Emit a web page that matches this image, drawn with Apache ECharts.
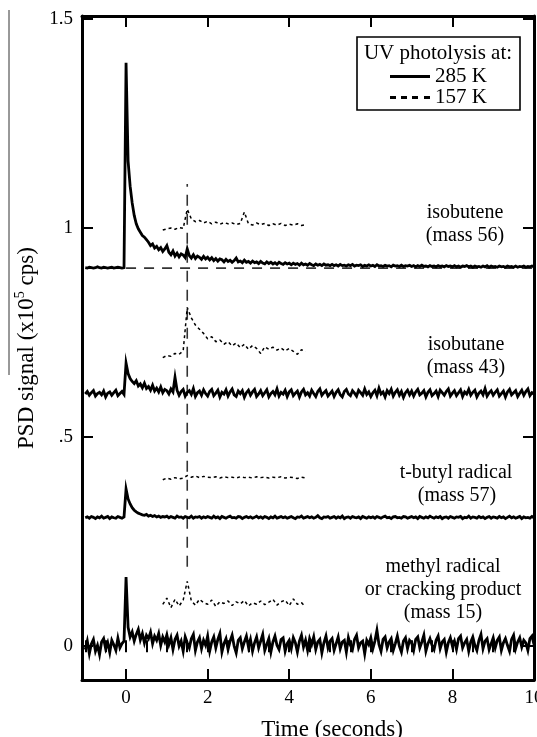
<!DOCTYPE html>
<html><head><meta charset="utf-8">
<script src="https://cdn.jsdelivr.net/npm/echarts@6/dist/echarts.min.js"></script>
<style>html,body{margin:0;padding:0;background:#fff}#c{width:537px;height:737px}</style>
</head><body><div id="c"></div>
<script>
// ---- axis ticks & labels ----
const xMajorTicks = [0, 2, 4, 6, 8, 10];
const xMinorTicks = [-1, -0.5, 0, 0.5, 1, 1.5, 2, 2.5, 3, 3.5, 4, 4.5, 5, 5.5, 6, 6.5, 7, 7.5, 8, 8.5, 9, 9.5, 10];
const yTickValues = [0, 0.5, 1, 1.5];
const yTickLabels = ['0', '.5', '1', '1.5'];

// ---- 285 K traces: sampled every 0.05 s from -1.0 s to 10.0 s ----
const solidStart = -1.0, solidStep = 0.05;
const isobutene285 = [
 0.905,0.904,0.906,0.905,0.904,0.905,0.907,0.905,0.904,0.906,0.905,0.904,0.905,0.906,0.904,0.905,0.906,0.905,0.904,0.905,
 1.395,
 1.16,1.10,1.06,1.03,1.01,0.998,0.990,0.982,0.978,0.972,0.966,0.958,0.962,0.952,0.956,0.948,0.953,0.944,0.950,0.958,
 0.942,0.936,0.945,0.933,0.940,0.931,0.938,0.935,0.929,0.950,0.934,0.928,0.936,0.927,0.933,0.930,0.925,0.932,0.926,0.930,
 0.924,0.929,0.922,0.927,0.921,0.926,0.924,0.919,0.925,0.920,0.923,0.918,0.922,0.928,0.919,0.921,0.917,0.923,0.918,0.920,
 0.916,0.921,0.917,0.919,0.915,0.920,0.916,0.914,0.919,0.915,0.918,0.914,0.917,0.913,0.918,0.915,0.913,0.917,0.914,0.916,
 0.912,0.916,0.913,0.915,0.911,0.916,0.912,0.914,0.911,0.915,0.912,0.910,0.914,0.911,0.913,0.910,0.914,0.911,0.912,0.910,
 0.913,0.910,0.912,0.909,0.913,0.910,0.911,0.909,0.912,0.910,0.913,0.909,0.911,0.910,0.912,0.908,0.911,0.909,0.912,0.909,
 0.911,0.908,0.912,0.909,0.910,0.908,0.911,0.909,0.910,0.907,0.911,0.909,0.910,0.908,0.911,0.908,0.910,0.909,0.911,0.908,
 0.910,0.907,0.910,0.908,0.911,0.908,0.909,0.907,0.910,0.908,0.909,0.907,0.910,0.908,0.909,0.907,0.910,0.908,0.909,0.907,
 0.910,0.907,0.909,0.906,0.909,0.908,0.910,0.907,0.909,0.906,0.909,0.907,0.908,0.906,0.909,0.907,0.910,0.906,0.909,0.907,
 0.908,0.906,0.909,0.907,0.908,0.906,0.909,0.907,0.908,0.906,0.909,0.906,0.908,0.907,0.909,0.906,0.908,0.907,0.909,0.907
];
const isobutane285 = [
 0.603,0.609,0.600,0.606,0.611,0.598,0.604,0.607,0.601,0.610,0.596,0.605,0.608,0.600,0.606,0.612,0.599,0.604,0.609,0.602,
 0.677,
 0.652,0.640,0.633,0.628,0.635,0.622,0.627,0.618,0.629,0.616,0.621,0.612,0.624,0.610,0.617,0.608,0.620,0.606,0.614,0.611,
 0.603,0.615,0.608,0.643,0.612,0.600,0.609,0.614,0.598,0.607,0.611,0.602,0.616,0.597,0.606,0.610,0.600,0.613,0.604,0.598,
 0.609,0.614,0.599,0.605,0.612,0.596,0.607,0.603,0.613,0.598,0.608,0.615,0.601,0.597,0.610,0.604,0.611,0.595,0.606,0.612,
 0.600,0.608,0.614,0.597,0.603,0.611,0.599,0.606,0.613,0.596,0.604,0.609,0.601,0.615,0.598,0.607,0.603,0.612,0.597,0.608,
 0.613,0.599,0.605,0.610,0.596,0.608,0.614,0.601,0.606,0.598,0.612,0.604,0.597,0.609,0.615,0.600,0.606,0.611,0.598,0.604,
 0.610,0.597,0.607,0.613,0.601,0.596,0.609,0.614,0.603,0.599,0.611,0.605,0.598,0.612,0.606,0.600,0.615,0.602,0.608,0.597,
 0.606,0.612,0.599,0.617,0.603,0.608,0.596,0.611,0.604,0.614,0.598,0.607,0.613,0.600,0.609,0.595,0.606,0.612,0.601,0.610,
 0.598,0.608,0.614,0.601,0.605,0.611,0.596,0.607,0.613,0.599,0.604,0.610,0.597,0.612,0.606,0.600,0.609,0.615,0.598,0.605,
 0.611,0.599,0.606,0.613,0.597,0.608,0.603,0.614,0.600,0.607,0.612,0.596,0.605,0.610,0.601,0.616,0.598,0.606,0.611,0.600,
 0.607,0.613,0.598,0.604,0.610,0.596,0.608,0.614,0.601,0.606,0.611,0.597,0.605,0.612,0.600,0.609,0.615,0.599,0.606,0.603
];
const tbutyl285 = [
 0.307,0.309,0.306,0.310,0.308,0.305,0.309,0.307,0.311,0.306,0.308,0.310,0.305,0.309,0.307,0.306,0.310,0.308,0.306,0.309,
 0.376,
 0.352,0.340,0.331,0.325,0.321,0.318,0.316,0.314,0.313,0.315,0.311,0.313,0.310,0.312,0.309,0.311,0.308,0.310,0.309,0.311,
 0.307,0.310,0.308,0.306,0.311,0.308,0.309,0.306,0.310,0.308,0.307,0.311,0.306,0.309,0.308,0.310,0.306,0.309,0.307,0.310,
 0.308,0.306,0.311,0.307,0.309,0.305,0.310,0.308,0.306,0.309,0.311,0.307,0.308,0.306,0.310,0.309,0.305,0.308,0.310,0.307,
 0.309,0.306,0.308,0.311,0.307,0.309,0.306,0.310,0.308,0.305,0.309,0.307,0.311,0.306,0.308,0.310,0.307,0.309,0.306,0.308,
 0.310,0.307,0.305,0.309,0.308,0.311,0.306,0.308,0.310,0.307,0.309,0.306,0.308,0.312,0.307,0.305,0.309,0.308,0.310,0.306,
 0.308,0.310,0.306,0.309,0.307,0.311,0.305,0.308,0.309,0.306,0.310,0.308,0.307,0.309,0.305,0.310,0.308,0.306,0.309,0.307,
 0.309,0.306,0.310,0.308,0.306,0.309,0.311,0.307,0.308,0.305,0.309,0.310,0.307,0.308,0.306,0.310,0.309,0.306,0.308,0.310,
 0.307,0.309,0.305,0.310,0.308,0.306,0.309,0.307,0.311,0.308,0.306,0.309,0.307,0.310,0.305,0.308,0.309,0.306,0.310,0.308,
 0.306,0.309,0.308,0.310,0.305,0.308,0.307,0.311,0.306,0.309,0.308,0.306,0.310,0.307,0.309,0.305,0.308,0.310,0.306,0.309,
 0.308,0.306,0.310,0.307,0.309,0.305,0.308,0.311,0.307,0.309,0.306,0.308,0.310,0.305,0.309,0.307,0.308,0.306,0.310,0.307
];
const methyl285 = [
 -0.008,0.012,-0.018,0.005,0.016,-0.012,0.002,-0.020,0.010,0.018,-0.006,0.008,-0.015,0.014,0.003,-0.010,0.019,-0.004,0.006,0.012,
 0.165,
 0.045,0.022,0.034,0.012,0.028,0.040,0.015,0.030,0.008,0.026,0.018,0.033,0.006,0.024,0.014,0.030,0.002,0.022,0.010,0.027,
 0.004,0.020,-0.008,0.016,0.026,0.000,0.012,-0.012,0.022,0.008,-0.004,0.018,0.028,-0.010,0.010,0.020,-0.006,0.014,0.002,0.024,
 -0.012,0.010,0.022,-0.004,0.016,0.030,-0.014,0.006,0.018,-0.008,0.012,0.026,0.000,-0.016,0.014,0.020,-0.006,0.010,0.024,-0.002,
 0.016,-0.012,0.008,0.022,-0.004,0.012,0.028,-0.010,0.004,0.018,-0.014,0.010,0.024,0.002,-0.008,0.016,0.020,-0.012,0.006,0.014,
 -0.006,0.020,0.008,-0.014,0.012,0.026,-0.002,0.014,-0.010,0.018,0.004,0.022,-0.008,0.010,0.016,-0.016,0.008,0.024,-0.004,0.012,
 0.018,-0.010,0.006,0.022,-0.006,0.010,0.014,-0.014,0.020,0.002,-0.008,0.016,0.026,-0.004,0.008,0.012,-0.018,0.014,0.004,0.020,
 -0.006,0.012,0.038,0.004,-0.012,0.016,0.022,-0.004,0.010,0.018,-0.010,0.006,0.024,0.000,-0.014,0.012,0.020,-0.006,0.014,0.008,
 -0.010,0.016,0.022,-0.004,0.010,0.026,-0.012,0.006,0.018,0.002,-0.008,0.014,0.024,-0.006,0.010,0.016,-0.014,0.008,0.020,0.000,
 0.012,-0.008,0.018,0.024,-0.004,0.008,0.016,-0.012,0.010,0.022,0.002,-0.010,0.014,0.028,-0.006,0.012,0.018,-0.008,0.006,0.020,
 -0.004,0.014,0.022,-0.010,0.008,0.018,0.002,-0.012,0.016,0.026,-0.006,0.010,0.020,-0.002,0.014,0.008,-0.010,0.018,0.024,0.004
];

// ---- 157 K traces: sampled every 0.1 s from 0.9 s to 4.4 s ----
const dotStart = 0.9, dotStep = 0.1;
const isobutene157 = [
 0.995,0.998,1.000,0.997,1.001,0.999,
 1.045,
 1.022,1.015,1.018,1.012,1.016,1.010,1.014,1.009,1.013,1.010,
 1.012,1.008,1.011,1.038,1.010,1.007,1.012,1.008,1.011,1.006,
 1.010,1.007,1.011,1.006,1.009,1.007,1.010,1.006,1.008
];
const isobutane157 = [
 0.690,0.695,0.693,0.700,0.698,0.706,
 0.810,
 0.785,0.768,0.758,0.748,0.735,0.740,0.728,0.732,0.722,0.728,
 0.718,0.725,0.714,0.722,0.710,0.719,0.712,0.700,0.716,0.710,
 0.715,0.708,0.713,0.706,0.712,0.705,0.698,0.709,0.704
];
const tbutyl157 = [
 0.398,0.402,0.399,0.403,0.400,0.402,
 0.408,
 0.404,0.407,0.403,0.406,0.404,0.403,0.405,0.402,0.405,0.403,
 0.404,0.402,0.405,0.403,0.404,0.402,0.405,0.403,0.404,0.402,
 0.404,0.403,0.405,0.402,0.404,0.403,0.401,0.404,0.402
];
const methyl157 = [
 0.100,0.115,0.092,0.112,0.096,0.110,
 0.155,
 0.108,0.098,0.112,0.104,0.100,0.110,0.095,0.106,0.102,0.108,
 0.097,0.106,0.101,0.109,0.096,0.104,0.100,0.108,0.099,0.105,
 0.112,0.098,0.106,0.110,0.097,0.113,0.100,0.104,0.094
];

// ---- reference dashed lines ----
const baselineX = [0, 10];
const baselineY = 0.904;
const markerX = 1.5;
const markerY = [0.19, 1.105];

// ---- labels ----
const traceLabels = [
  ['isobutene', '(mass 56)'],
  ['isobutane', '(mass 43)'],
  ['t-butyl radical', '(mass 57)'],
  ['methyl radical', 'or cracking product', '(mass 15)']
];
const legendTitle = 'UV photolysis at:';
const legendNames = ['285 K', '157 K'];

const FONT = 'Liberation Serif';
const toPairs = (start, step, vals) => vals.map((v, i) => [start + i * step, v]);

const solidSeries = [isobutene285, isobutane285, tbutyl285, methyl285].map(v => ({
  name: legendNames[0], type: 'line', symbol: 'none', silent: true,
  data: toPairs(solidStart, solidStep, v),
  lineStyle: { color: '#000', width: 2.8, join: 'miter' }, itemStyle: { color: '#000' }, z: 5
}));
const dotSeries = [isobutene157, isobutane157, tbutyl157, methyl157].map(v => ({
  name: legendNames[1], type: 'line', symbol: 'none', silent: true,
  data: toPairs(dotStart, dotStep, v),
  lineStyle: { color: '#000', width: 1.5, type: [3, 3] }, itemStyle: { color: '#000' }, z: 4
}));
const refSeries = [
  { type: 'line', symbol: 'none', silent: true, data: baselineX.map(x => [x, baselineY]),
    lineStyle: { color: '#333', width: 1.6, type: [10, 8] }, z: 2 },
  { type: 'line', symbol: 'none', silent: true, data: markerY.map(y => [markerX, y]),
    lineStyle: { color: '#333', width: 1.6, type: [11, 8] }, z: 2 }
];

const xBase = { type: 'value', min: -1.08, max: 10, splitLine: { show: false } };
const yBase = { type: 'value', min: -0.081, max: 1.507, splitLine: { show: false } };
const axisLineStyle = { show: true, onZero: false, lineStyle: { color: '#000', width: 3 } };
const txt = (x, y, text, size) => ({ type: 'text', x: x, y: y, silent: true, z: 10,
  style: { text: text, font: size + 'px "Liberation Serif"', fill: '#000', textAlign: 'center', textVerticalAlign: 'middle', align: 'center', verticalAlign: 'middle' } });

const chart = echarts.init(document.getElementById('c'), null, { renderer: 'canvas' });
chart.setOption({
  animation: false,
  backgroundColor: '#fff',
  grid: { left: 82, right: 3, top: 16, bottom: 57, containLabel: false, outerBoundsMode: 'none' },
  xAxis: [
    Object.assign({}, xBase, { position: 'bottom', axisLine: axisLineStyle,
      axisTick: { show: true, inside: true, length: 11, lineStyle: { color: '#000', width: 2 }, customValues: xMajorTicks },
      axisLabel: { show: true, customValues: xMajorTicks, margin: 9, color: '#000', fontFamily: FONT, fontSize: 19 },
      name: 'Time (seconds)', nameLocation: 'middle', nameGap: 38,
      nameTextStyle: { color: '#000', fontFamily: FONT, fontSize: 23, padding: [0, 0, 0, 48] } }),
    Object.assign({}, xBase, { position: 'bottom', axisLine: { show: false },
      axisTick: { show: true, inside: true, length: 6, lineStyle: { color: '#000', width: 2 }, customValues: xMinorTicks },
      axisLabel: { show: false } }),
    Object.assign({}, xBase, { position: 'top', axisLine: axisLineStyle,
      axisTick: { show: true, inside: true, length: 11, lineStyle: { color: '#000', width: 2 }, customValues: xMajorTicks },
      axisLabel: { show: false } }),
    Object.assign({}, xBase, { position: 'top', axisLine: { show: false },
      axisTick: { show: true, inside: true, length: 6, lineStyle: { color: '#000', width: 2 }, customValues: xMinorTicks },
      axisLabel: { show: false } })
  ],
  yAxis: [
    Object.assign({}, yBase, { position: 'left', axisLine: axisLineStyle,
      axisTick: { show: true, inside: true, length: 11, lineStyle: { color: '#000', width: 2 }, customValues: yTickValues },
      axisLabel: { show: true, customValues: yTickValues, margin: 9, color: '#000', fontFamily: FONT, fontSize: 19,
        formatter: v => { const i = yTickValues.findIndex(t => Math.abs(t - v) < 1e-9); return i >= 0 ? yTickLabels[i] : ''; } },
      name: '{a|PSD signal (x10}{s|5}{a| cps)}', nameLocation: 'middle', nameGap: 40, nameRotate: 90,
      nameTextStyle: { color: '#000', rich: {
        a: { fontFamily: FONT, fontSize: 23, color: '#000', lineHeight: 28 },
        s: { fontFamily: FONT, fontSize: 14, color: '#000', verticalAlign: 'top', lineHeight: 14 } } } }),
    Object.assign({}, yBase, { position: 'right', axisLine: axisLineStyle,
      axisTick: { show: true, inside: true, length: 11, lineStyle: { color: '#000', width: 2 }, customValues: yTickValues },
      axisLabel: { show: false } })
  ],
  legend: {
    show: true, orient: 'vertical', left: 390, top: 66, padding: 0, itemGap: 0,
    itemWidth: 40, itemHeight: 3, selectedMode: false,
    itemStyle: { color: '#000', borderWidth: 0 },
    textStyle: { color: '#000', fontFamily: FONT, fontSize: 21, lineHeight: 21 },
    data: [
      { name: legendNames[0], icon: 'path://M0,0h40v3h-40z' },
      { name: legendNames[1], icon: 'path://M0,0h6v3h-6z M11,0h6v3h-6z M22,0h6v3h-6z M34,0h6v3h-6z' }
    ]
  },
  graphic: [
    { type: 'line', shape: { x1: 9, y1: 10, x2: 9, y2: 375 }, style: { stroke: '#333', lineWidth: 1 }, silent: true },
    { type: 'rect', shape: { x: 357, y: 37, width: 163, height: 73 }, style: { fill: 'none', stroke: '#000', lineWidth: 1.6 }, silent: true, z: 10 },
    txt(438, 53, legendTitle, 21),
    txt(465, 213, traceLabels[0][0], 20),
    txt(465, 236, traceLabels[0][1], 20),
    txt(466, 345, traceLabels[1][0], 20),
    txt(466, 368, traceLabels[1][1], 20),
    txt(456, 473, traceLabels[2][0], 20),
    txt(457, 496, traceLabels[2][1], 20),
    txt(443, 567, traceLabels[3][0], 20),
    txt(443, 590, traceLabels[3][1], 20),
    txt(443, 613, traceLabels[3][2], 20)
  ],
  series: refSeries.concat(dotSeries, solidSeries)
});
</script></body></html>
